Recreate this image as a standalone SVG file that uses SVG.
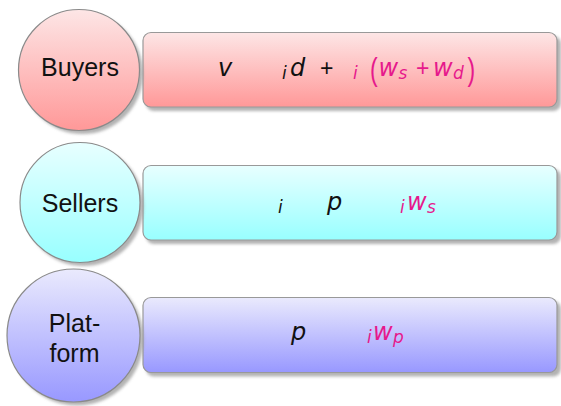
<svg xmlns="http://www.w3.org/2000/svg" width="561" height="406" viewBox="0 0 561 406">
<defs>
  <linearGradient id="gRed" x1="0" y1="0" x2="0" y2="1">
    <stop offset="0" stop-color="#fde6e6"/>
    <stop offset="1" stop-color="#ff9898"/>
  </linearGradient>
  <linearGradient id="gCyan" x1="0" y1="0" x2="0" y2="1">
    <stop offset="0" stop-color="#e8ffff"/>
    <stop offset="1" stop-color="#98ffff"/>
  </linearGradient>
  <linearGradient id="gBlue" x1="0" y1="0" x2="0" y2="1">
    <stop offset="0" stop-color="#eaeafd"/>
    <stop offset="1" stop-color="#9898ff"/>
  </linearGradient>
  <filter id="shadow" x="-10%" y="-10%" width="130%" height="130%">
    <feGaussianBlur stdDeviation="1.5"/>
  </filter>
</defs>
<style>
  .shd { fill: #9a9a9a; opacity: 0.75; filter: url(#shadow); }
  .box { stroke: #999999; stroke-width: 1.2; }
  .circ { stroke: #8a8a8a; stroke-width: 1.2; }
  .lbl { font-family: "Liberation Sans", Arial, sans-serif; font-size: 25px; fill: #111111; text-anchor: middle; }
  .m { font-family: "DejaVu Sans", sans-serif; font-size: 24px; font-style: italic; fill: #111111; }
  .sub { font-family: "DejaVu Sans", sans-serif; font-size: 17px; font-style: italic; }
  .op { font-family: "Liberation Sans", Arial, sans-serif; font-size: 23px; }
  .par { font-family: "Liberation Sans", Arial, sans-serif; font-size: 23px; }
  .k { fill: #111111; }
  .mg { fill: #e6198c; }
</style>

<g id="buyers-box">
  <rect class="shd" x="146" y="36" width="415" height="75" rx="8"/>
  <rect class="box" x="143" y="32.5" width="414" height="74.5" rx="8" fill="url(#gRed)"/>
  <text class="m" x="218" y="76">v</text>
  <text class="sub k" x="282" y="79">i</text>
  <text class="m" x="290" y="76">d</text>
  <text class="op k" x="320" y="76">+</text>
  <text class="sub mg" x="353" y="79">i</text>
  <text class="par mg" transform="translate(370,80) scale(1,1.38)">(</text>
  <text class="m mg" x="378.5" y="76">w</text>
  <text class="sub mg" x="398.5" y="79">s</text>
  <text class="op mg" x="416" y="76">+</text>
  <text class="m mg" x="433" y="76">w</text>
  <text class="sub mg" x="453" y="79">d</text>
  <text class="par mg" transform="translate(467.5,80) scale(1,1.38)">)</text>
</g>

<g id="sellers-box">
  <rect class="shd" x="146" y="169" width="415" height="75" rx="8"/>
  <rect class="box" x="143" y="165.5" width="414" height="74.5" rx="8" fill="url(#gCyan)"/>
  <text class="sub k" x="278" y="213">i</text>
  <text class="m" x="327" y="210">p</text>
  <text class="sub mg" x="400" y="213">i</text>
  <text class="m mg" x="407" y="210">w</text>
  <text class="sub mg" x="427" y="213">s</text>
</g>

<g id="platform-box">
  <rect class="shd" x="146" y="301" width="415" height="75.5" rx="8"/>
  <rect class="box" x="143" y="297.5" width="414" height="75" rx="8" fill="url(#gBlue)"/>
  <text class="m" x="291" y="340">p</text>
  <text class="sub mg" x="367" y="343">i</text>
  <text class="m mg" x="373" y="340">w</text>
  <text class="sub mg" x="393" y="343">p</text>
</g>

<g id="buyers">
  <circle class="shd" cx="82.5" cy="73.5" r="60.5"/>
  <circle class="circ" cx="79" cy="70" r="60.5" fill="url(#gRed)"/>
  <text class="lbl" x="80" y="76">Buyers</text>
</g>

<g id="sellers">
  <circle class="shd" cx="83.5" cy="206" r="60"/>
  <circle class="circ" cx="80" cy="202.5" r="60" fill="url(#gCyan)"/>
  <text class="lbl" x="80" y="212">Sellers</text>
</g>

<g id="platform">
  <circle class="shd" cx="77" cy="339" r="66.5"/>
  <circle class="circ" cx="73.5" cy="335.5" r="66.5" fill="url(#gBlue)"/>
  <text class="lbl" x="74.5" y="332">Plat-</text>
  <text class="lbl" x="74.5" y="362">form</text>
</g>

<g id="connectors"/>
</svg>
